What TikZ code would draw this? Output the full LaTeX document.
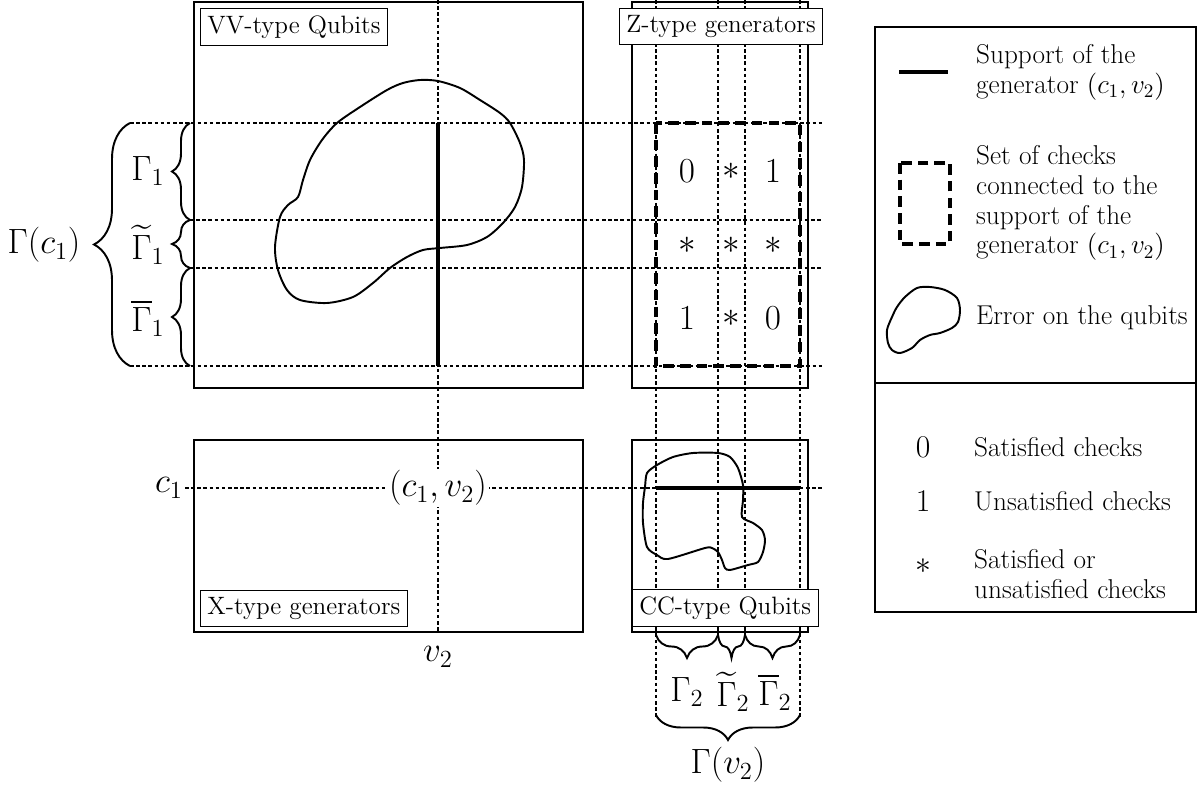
\documentclass[tikz,border=0pt]{standalone}
\usepackage{fix-cm}
\usepackage{amsmath}
\usetikzlibrary{decorations.pathreplacing,calc}

\begin{document}
\begin{tikzpicture}[x=0.02cm,y=-0.02cm,
  frame/.style={draw,line width=1.1pt},
  tag/.style={draw,line width=0.5pt,fill=white,inner sep=4pt,
              font=\fontsize{14.3}{16}\selectfont},
  grid/.style={line width=0.6pt,dash pattern=on 2pt off 1.5pt},
  supp/.style={line width=2.8pt},
  checks/.style={line width=2pt,dash pattern=on 6pt off 3.5pt},
  blob/.style={line width=1.1pt},
  brc/.style={decorate,decoration={brace,amplitude=#1},line width=1.1pt},
  lbl/.style={font=\fontsize{20}{24}\selectfont},
  val/.style={font=\fontsize{20}{24}\selectfont},
  key/.style={font=\fontsize{18}{22}\selectfont},
  txt/.style={font=\fontsize{15.5}{17}\selectfont,align=left,anchor=west}]

  \useasboundingbox (0,0) rectangle (1198,787);

  \foreach \n/\y/\x in {a/123/130,b/220/190,c/268/190,d/366/130}{
    \coordinate (row\n W) at (\x,\y); \coordinate (row\n E) at (822,\y);
    \draw[grid] (row\n W) -- (row\n E);}
  \foreach \n/\x/\y in {a/656/717,b/718/637,c/745/637,d/800/717}{
    \coordinate (col\n N) at (\x,0); \coordinate (col\n S) at (\x,\y);
    \draw[grid] (col\n N) -- (col\n S);}
  \coordinate (vN) at (438,0); \coordinate (vS) at (438,632);
  \draw[grid] (vN) -- (vS);
  \coordinate (cW) at (185,488); \coordinate (cE) at (822,488);
  \draw[grid] (cW) -- (cE);

  \draw[frame] (194,2) rectangle (583,388);
  \draw[frame] (632,2) rectangle (808,388);
  \draw[frame] (194,440) rectangle (583,632);
  \draw[frame] (632,440) rectangle (808,632);
  \draw[line width=0.7pt] (875,27) rectangle (1196,612);
  \draw[line width=0.7pt] (875,383) -- (1196,383);

  \draw[blob] plot[smooth cycle,tension=0.5] coordinates {(403,83) (420,80)
    (438,81) (460,88) (480,100) (500,113) (510,123) (520,143) (524,160)
    (522,187) (515,207) (503,223) (487,237) (467,245) (440,248) (423,250)
    (407,257) (390,268) (373,283) (353,297) (327,303) (300,300) (287,290)
    (278,270) (275,247) (280,217) (288,205) (298,197) (303,180) (310,160)
    (322,140) (337,123) (360,107) (387,90)};
  \draw[blob] plot[smooth cycle,tension=0.45] coordinates {(645,487) (647,473)
    (657,465) (673,457) (693,453) (718,453) (730,457) (738,468) (743,485)
    (743,500) (742,517) (753,523) (762,530) (765,540) (763,552) (758,562)
    (748,565) (730,570) (725,568) (722,560) (718,552) (712,548) (705,548)
    (668,559) (657,555) (647,547) (643,523) (643,503)};
  \coordinate (sN) at (438,123); \coordinate (sS) at (438,366);
  \draw[supp] (sN) -- (sS);
  \coordinate (hW) at (656,488); \coordinate (hE) at (800,488);
  \draw[supp] (hW) -- (hE);
  \draw[checks] (656,123) rectangle (800,366);

  \node[tag,anchor=north west] (vv) at (200,8) {VV-type Qubits};
  \node[tag,anchor=north] (zz) at (721,8) {Z-type generators};
  \node[tag,anchor=south west] (xx) at (200,627) {X-type generators};
  \node[tag,anchor=south west] (cc) at (632,627) {CC-type Qubits};

  \foreach \t/\x/\y in {0/687/171,*/731/171,1/773/171,
                        */687/245,*/731/245,*/773/245,
                        1/687/318,*/731/318,0/773/318}
    \node[val] at (\x,\y) {$\t$};

  \draw[brc=0.36cm] (190,220) -- (190,123);
  \draw[brc=0.36cm] (190,268) -- (190,220);
  \draw[brc=0.36cm] (190,366) -- (190,268);
  \draw[brc=0.72cm] (130,366) -- (130,123);
  \node[lbl] (g1) at (148,171) {$\Gamma_1$};
  \node[lbl] (g1t) at (148,245) {$\widetilde{\Gamma}_1$};
  \node[lbl] (g1b) at (148,318) {$\overline{\Gamma}_1$};
  \node[lbl] (gc1) at (44,245) {$\Gamma(c_1)$};

  \draw[brc=0.46cm] (718,635) -- (656,635);
  \draw[brc=0.46cm] (745,635) -- (718,635);
  \draw[brc=0.46cm] (800,635) -- (745,635);
  \draw[brc=0.5cm] (800,715) -- (656,715);
  \node[lbl] (g2) at (687,692) {$\Gamma_2$};
  \node[lbl] (g2t) at (733,692) {$\widetilde{\Gamma}_2$};
  \node[lbl] (g2b) at (775,692) {$\overline{\Gamma}_2$};
  \node[lbl] (gv2) at (728,765) {$\Gamma(v_2)$};

  \node[lbl,anchor=east,inner sep=1pt] (c1) at (cW) {$c_1$};
  \node[lbl,fill=white,inner sep=1pt] (cv) at (438,488) {$(c_1,v_2)$};
  \node[lbl] (v2) at (438,657) {$v_2$};

  \coordinate (kW) at (899,72); \coordinate (kE) at (948,72);
  \draw[supp] (kW) -- (kE);
  \node[txt] (l1) at (970,72) {Support of the\\generator $(c_1,v_2)$};
  \draw[checks] (900,163) rectangle (950,244);
  \node[txt] (l2) at (970,203) {Set of checks\\connected to the\\support of the\\generator $(c_1,v_2)$};
  \draw[blob] plot[smooth cycle,tension=0.5] coordinates {(888,343) (887,330)
    (892,317) (897,307) (905,297) (917,288) (930,287) (945,290) (957,298)
    (960,310) (958,322) (952,328) (940,333) (930,335) (920,340) (912,348)
    (900,353) (892,350)};
  \node[txt] (l3) at (970,318) {Error on the qubits};

  \node[key] (s0) at (923,447) {$0$};
  \node[txt] (l4) at (968,447) {Satisfied checks};
  \node[key] (s1) at (923,501) {$1$};
  \node[txt] (l5) at (968,501) {Unsatisfied checks};
  \node[key] (s2) at (923,566) {$*$};
  \node[txt] (l6) at (968,574) {Satisfied or\\unsatisfied checks};
\end{tikzpicture}
\end{document}
